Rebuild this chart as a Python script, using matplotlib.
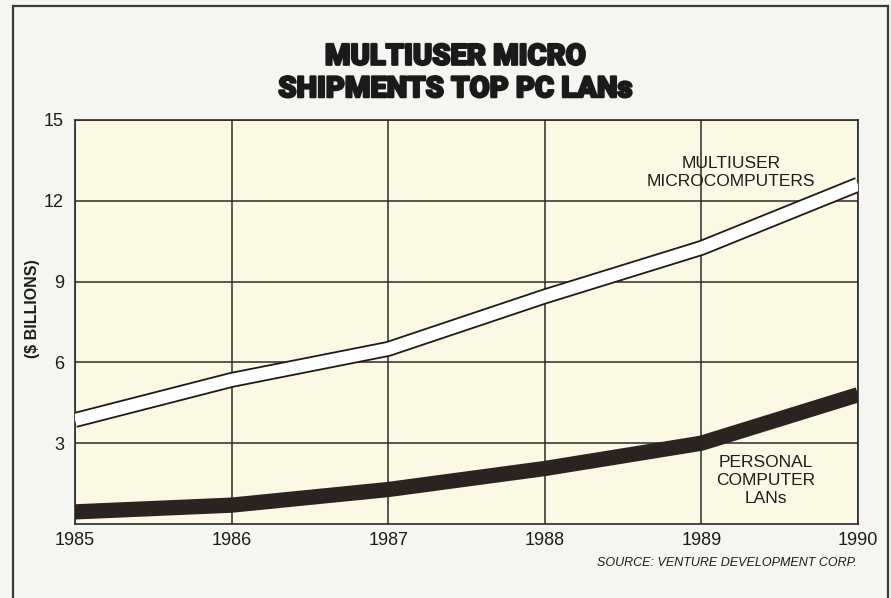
import matplotlib.pyplot as plt
from matplotlib.patches import Rectangle
import matplotlib.patheffects as pe

years = [1985, 1986, 1987, 1988, 1989, 1990]
multiuser = [3.86, 5.35, 6.5, 8.45, 10.25, 12.6]
pc_lans = [0.45, 0.7, 1.28, 2.06, 3.0, 4.8]
y_ticks = [3, 6, 9, 12, 15]

plt.rcParams['font.family'] = ['Liberation Sans', 'DejaVu Sans']

fig = plt.figure(figsize=(8.91, 5.98), dpi=100)
fig.patch.set_facecolor('#f5f5f1')

# outer frame of the graphic
fig.patches.append(Rectangle((13 / 891, -0.05), 875 / 891, 1.04, transform=fig.transFigure,
                             fill=False, edgecolor='#3a3a3a', linewidth=1.6))

ax = fig.add_axes([75 / 891, 1 - 524 / 598, 783 / 891, 404 / 598])
ax.set_facecolor('#fbf9e4')

# white band with dark outline, then the solid dark band
ax.plot(years, multiuser, color='white', linewidth=8.8, solid_joinstyle='miter',
        solid_capstyle='butt', zorder=4,
        path_effects=[pe.Stroke(linewidth=11.4, foreground='#1e1a18', capstyle='butt',
                                joinstyle='miter'), pe.Normal()])
ax.plot(years, pc_lans, color='#2a2320', linewidth=11.0, solid_capstyle='butt',
        solid_joinstyle='miter', zorder=4)

ax.set_xlim(1985, 1990)
ax.set_ylim(0, 15)
ax.set_xticks(years)
ax.set_yticks(y_ticks)
ax.grid(True, color='#2b2b2b', linewidth=1.1)
ax.set_axisbelow(True)
for s in ax.spines.values():
    s.set_color('#2b2b2b')
    s.set_linewidth(1.2)
ax.tick_params(length=0, labelsize=13, colors='#1c1c1c')
ax.tick_params(axis='x', pad=6)
ax.tick_params(axis='y', pad=8)

ax.set_ylabel('($ BILLIONS)', fontsize=11.5, fontweight='bold', color='#1c1c1c')
ax.yaxis.set_label_coords(-0.045, 0.532)

ax.text(1989.19, 13.05, 'MULTIUSER\nMICROCOMPUTERS', ha='center', va='center',
        fontsize=12.5, linespacing=1.2, color='#1c1c1c', zorder=5)
ax.text(1989.41, 1.63, 'PERSONAL\nCOMPUTER\nLANs', ha='center', va='center',
        fontsize=12.5, linespacing=1.25, color='#1c1c1c', zorder=5)

fig.text(0.511, 0.878, 'MULTIUSER MICRO\nSHIPMENTS TOP PC LANs', ha='center', va='center',
         fontsize=21, fontweight=900, family=['Roboto', 'DejaVu Sans'],
         linespacing=1.2, color='#1a1a1a',
         path_effects=[pe.withStroke(linewidth=1.6, foreground='#1a1a1a')])

fig.text(857 / 891, 1 - 563 / 598, 'SOURCE: VENTURE DEVELOPMENT CORP.', ha='right',
         va='center', fontsize=9, style='italic', color='#1c1c1c')

fig.savefig('out.png', dpi=100, facecolor=fig.get_facecolor())
